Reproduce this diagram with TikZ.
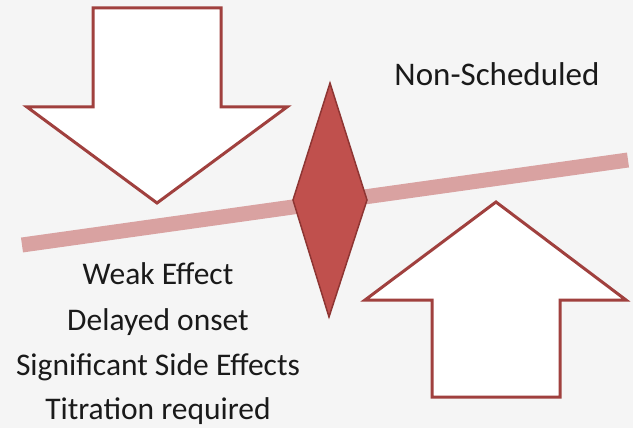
\documentclass[tikz,border=0pt]{standalone}
\usepackage{fontspec}
\setmainfont{Carlito}
\definecolor{bgc}{HTML}{F5F5F5}
\definecolor{edge}{HTML}{A0403E}
\definecolor{dfill}{HTML}{C0504D}
\definecolor{dedge}{HTML}{8E3533}
\definecolor{barc}{HTML}{D9A2A1}
\definecolor{txt}{HTML}{1A1A1A}
\tikzset{
  arrowshape/.style={draw=edge, line width=3pt, fill=white, line join=miter},
  lbl/.style={font=\fontsize{31.5}{31.5}\selectfont, text=txt, inner sep=0pt, anchor=base}
}
\begin{document}
\begin{tikzpicture}[x=1pt,y=-1pt]
\fill[bgc] (0,0) rectangle (633,428);
\useasboundingbox (0,0) rectangle (633,428);
% balance bar
\coordinate (barL) at (22,245);
\coordinate (barR) at (628,160);
\draw[barc, line width=15pt] (barL) -- (barR);
% down arrow
\draw[arrowshape] (93,8) -- (221,8) -- (221,107) -- (287,107) -- (157,203) -- (27,107) -- (93,107) -- cycle;
% up arrow
\draw[arrowshape] (432,397) -- (560,397) -- (560,300) -- (626,300) -- (496,202) -- (365,300) -- (432,300) -- cycle;
% fulcrum diamond
\draw[fill=dfill, draw=dedge, line width=1.5pt] (330,83) -- (367,200) -- (329,317) -- (293,200) -- cycle;
% texts
\node[lbl, font=\fontsize{33}{33}\selectfont] (ns) at (497,86) {Non-Scheduled};
\node[lbl] (t1) at (158,284) {Weak Effect};
\node[lbl] (t2) at (158,330) {Delayed onset};
\node[lbl] (t3) at (158,375) {Significant Side Effects};
\node[lbl] (t4) at (158,419) {Titration required};
\end{tikzpicture}
\end{document}
